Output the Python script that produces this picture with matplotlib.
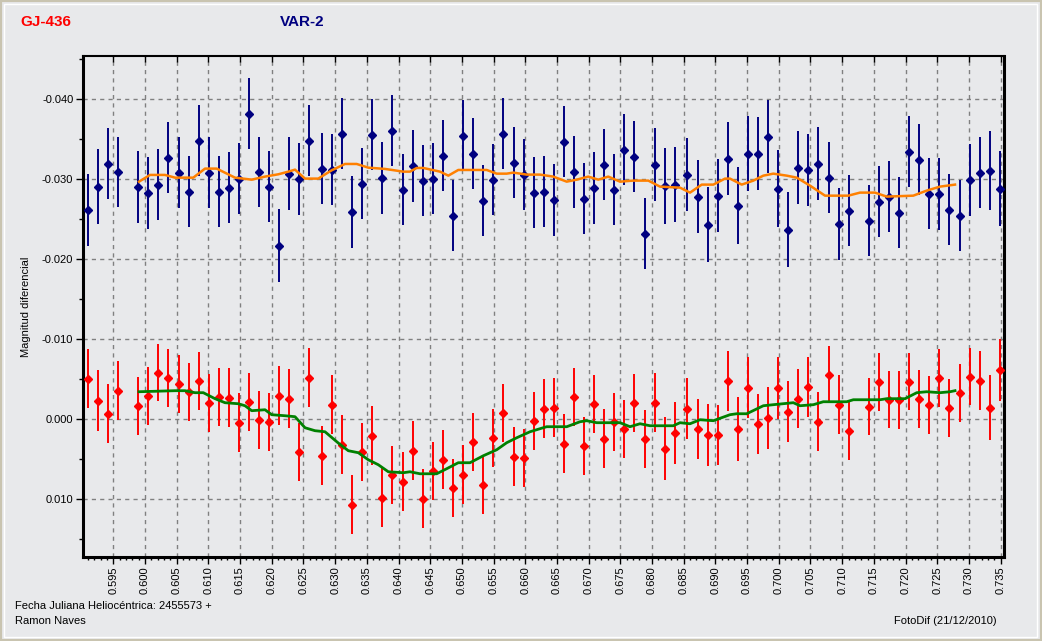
import matplotlib
matplotlib.use("Agg")
import matplotlib.pyplot as plt
from matplotlib.ticker import MultipleLocator, FormatStrFormatter
from matplotlib.patches import Rectangle

plt.rcParams['font.family'] = ['Liberation Sans', 'DejaVu Sans']

# ---------------- data ----------------
jd = [0.59106, 0.59259, 0.59416, 0.59574, 0.59890, 0.60047, 0.60205, 0.60363, 0.60537, 0.60694,
      0.60852, 0.61010, 0.61168, 0.61326, 0.61483, 0.61641, 0.61799, 0.61957, 0.62114, 0.62272,
      0.62430, 0.62588, 0.62793, 0.62951, 0.63108, 0.63266, 0.63424, 0.63582, 0.63740, 0.63897,
      0.64066, 0.64233, 0.64386, 0.64544, 0.64702, 0.64860, 0.65018, 0.65175, 0.65333, 0.65491,
      0.65649, 0.65822, 0.65980, 0.66138, 0.66296, 0.66453, 0.66611, 0.66769, 0.66927, 0.67084,
      0.67242, 0.67400, 0.67558, 0.67716, 0.67889, 0.68047, 0.68205, 0.68362, 0.68552, 0.68725,
      0.68883, 0.69041, 0.69194, 0.69356, 0.69514, 0.69672, 0.69830, 0.69988, 0.70145, 0.70303,
      0.70461, 0.70619, 0.70792, 0.70950, 0.71108, 0.71423, 0.71581, 0.71739, 0.71897, 0.72054,
      0.72212, 0.72370, 0.72528, 0.72686, 0.72859, 0.73017, 0.73175, 0.73332, 0.73490]

var2_mag = [-0.02616, -0.02908, -0.03195, -0.03091, -0.02908, -0.02833, -0.02933, -0.03270, -0.03083, -0.02846,
            -0.03483, -0.03083, -0.02846, -0.02896, -0.03008, -0.03820, -0.03091, -0.02908, -0.02170, -0.03070,
            -0.03008, -0.03483, -0.03133, -0.03120, -0.03570, -0.02595, -0.02945, -0.03558, -0.03020, -0.03608,
            -0.02870, -0.03166, -0.02983, -0.03008, -0.03295, -0.02545, -0.03545, -0.03320, -0.02733, -0.02995,
            -0.03570, -0.03208, -0.03058, -0.02833, -0.02846, -0.02745, -0.03470, -0.03095, -0.02758, -0.02895,
            -0.03183, -0.02870, -0.03370, -0.03283, -0.02320, -0.03183, -0.02920, -0.02933, -0.03058, -0.02783,
            -0.02433, -0.02795, -0.03258, -0.02670, -0.03320, -0.03320, -0.03533, -0.02883, -0.02370, -0.03145,
            -0.03120, -0.03195, -0.03020, -0.02445, -0.02608, -0.02483, -0.02720, -0.02783, -0.02583, -0.03345,
            -0.03245, -0.02820, -0.02820, -0.02620, -0.02545, -0.02995, -0.03083, -0.03108, -0.02883]

var2_err = [0.00452, 0.00467, 0.00448, 0.00440, 0.00450, 0.00450, 0.00448, 0.00442, 0.00448, 0.00442,
            0.00448, 0.00441, 0.00448, 0.00448, 0.00448, 0.00441, 0.00441, 0.00448, 0.00454, 0.00454,
            0.00450, 0.00441, 0.00448, 0.00448, 0.00448, 0.00448, 0.00441, 0.00448, 0.00448, 0.00448,
            0.00441, 0.00448, 0.00448, 0.00448, 0.00441, 0.00444, 0.00441, 0.00441, 0.00441, 0.00441,
            0.00441, 0.00448, 0.00441, 0.00448, 0.00448, 0.00448, 0.00448, 0.00448, 0.00448, 0.00448,
            0.00441, 0.00441, 0.00441, 0.00441, 0.00441, 0.00454, 0.00473, 0.00473, 0.00460, 0.00460,
            0.00466, 0.00454, 0.00460, 0.00479, 0.00466, 0.00460, 0.00460, 0.00479, 0.00466, 0.00454,
            0.00450, 0.00454, 0.00441, 0.00448, 0.00441, 0.00441, 0.00441, 0.00441, 0.00441, 0.00441,
            0.00441, 0.00441, 0.00448, 0.00441, 0.00444, 0.00448, 0.00448, 0.00491, 0.00473]

gj436_mag = [-0.00508, -0.00233, -0.00070, -0.00358, -0.00170, -0.00295, -0.00583, -0.00520, -0.00445, -0.00345,
             -0.00483, -0.00208, -0.00283, -0.00270, 0.00042, -0.00220, 0.00005, 0.00030, -0.00295, -0.00258,
             0.00405, -0.00520, 0.00455, -0.00183, 0.00317, 0.01067, 0.00405, 0.00205, 0.00980, 0.00692,
             0.00780, 0.00392, 0.00992, 0.00642, 0.00505, 0.00855, 0.00692, 0.00280, 0.00817, 0.00230,
             -0.00083, 0.00467, 0.00480, 0.00017, -0.00133, -0.00145, 0.00305, -0.00283, 0.00330, -0.00195,
             0.00242, 0.00030, 0.00117, -0.00208, 0.00242, -0.00208, 0.00367, 0.00167, -0.00133, 0.00117,
             0.00192, 0.00192, -0.00483, 0.00117, -0.00395, 0.00055, -0.00020, -0.00395, -0.00095, -0.00258,
             -0.00408, 0.00030, -0.00558, -0.00183, 0.00142, -0.00158, -0.00470, -0.00245, -0.00245, -0.00470,
             -0.00258, -0.00183, -0.00520, -0.00145, -0.00333, -0.00533, -0.00483, -0.00145, -0.00620]

gj436_err = [0.00369, 0.00379, 0.00366, 0.00366, 0.00360, 0.00360, 0.00360, 0.00360, 0.00360, 0.00360,
             0.00360, 0.00360, 0.00360, 0.00366, 0.00366, 0.00360, 0.00360, 0.00360, 0.00366, 0.00366,
             0.00363, 0.00366, 0.00366, 0.00366, 0.00366, 0.00366, 0.00363, 0.00366, 0.00369, 0.00360,
             0.00366, 0.00366, 0.00366, 0.00365, 0.00366, 0.00360, 0.00366, 0.00360, 0.00360, 0.00360,
             0.00360, 0.00366, 0.00360, 0.00360, 0.00366, 0.00366, 0.00366, 0.00360, 0.00360, 0.00360,
             0.00366, 0.00360, 0.00360, 0.00360, 0.00360, 0.00366, 0.00391, 0.00385, 0.00379, 0.00373,
             0.00385, 0.00373, 0.00373, 0.00398, 0.00379, 0.00373, 0.00385, 0.00385, 0.00379, 0.00366,
             0.00373, 0.00366, 0.00360, 0.00366, 0.00360, 0.00354, 0.00360, 0.00354, 0.00360, 0.00354,
             0.00360, 0.00360, 0.00360, 0.00360, 0.00360, 0.00360, 0.00366, 0.00404, 0.00385]

# running mean curves
var2_smooth_jd = [0.59906, 0.60079, 0.60316, 0.60474, 0.60762, 0.60947, 0.61131, 0.61420, 0.61684, 0.61894,
                  0.62104, 0.62261, 0.62367, 0.62525, 0.62734, 0.62946, 0.63156, 0.63340, 0.63523, 0.63787,
                  0.64076, 0.64181, 0.64287, 0.64391, 0.64655, 0.64786, 0.64943, 0.65391, 0.65549, 0.65707,
                  0.65811, 0.66023, 0.66232, 0.66442, 0.66654, 0.66812, 0.66994, 0.67152, 0.67310, 0.67495,
                  0.67704, 0.67941, 0.68126, 0.68441, 0.68599, 0.68784, 0.68967, 0.69151, 0.69230, 0.69415,
                  0.69598, 0.69756, 0.69913, 0.70125, 0.70283, 0.70493, 0.70729, 0.71097, 0.71281, 0.71518,
                  0.71702, 0.72122, 0.72333, 0.72544, 0.72780]
var2_smooth = [-0.02970, -0.03054, -0.03054, -0.03020, -0.03020, -0.03133, -0.03133, -0.03020, -0.02995, -0.03033,
               -0.03062, -0.03095, -0.03120, -0.03008, -0.03008, -0.03112, -0.03191, -0.03191, -0.03145, -0.03129,
               -0.03095, -0.03095, -0.03141, -0.03141, -0.03095, -0.03045, -0.03116, -0.03116, -0.03070, -0.03070,
               -0.03083, -0.03058, -0.03058, -0.03033, -0.02970, -0.02995, -0.03033, -0.02995, -0.03033, -0.02970,
               -0.02983, -0.02983, -0.02908, -0.02895, -0.02833, -0.02933, -0.02933, -0.03008, -0.03008, -0.02933,
               -0.02983, -0.03045, -0.03070, -0.03045, -0.03020, -0.02920, -0.02795, -0.02795, -0.02833, -0.02833,
               -0.02783, -0.02795, -0.02858, -0.02908, -0.02933]

gj436_smooth_jd = [0.59906, 0.60474, 0.60631, 0.60789, 0.60920, 0.61105, 0.61262, 0.61472, 0.61578, 0.61684,
                   0.61894, 0.61999, 0.62209, 0.62367, 0.62525, 0.62682, 0.62840, 0.63050, 0.63208, 0.63366,
                   0.63523, 0.63681, 0.63839, 0.64076, 0.64181, 0.64339, 0.64602, 0.64760, 0.64943, 0.65128,
                   0.65338, 0.65549, 0.65707, 0.65865, 0.66075, 0.66232, 0.66338, 0.66654, 0.66864, 0.66969,
                   0.67127, 0.67495, 0.67652, 0.67810, 0.67968, 0.68336, 0.68441, 0.68599, 0.68757, 0.68967,
                   0.69230, 0.69336, 0.69494, 0.69756, 0.69913, 0.70229, 0.70335, 0.70545, 0.70702, 0.71071,
                   0.71176, 0.71597, 0.71702, 0.71991, 0.72176, 0.72333, 0.72544, 0.72702, 0.72780]
gj436_smooth = [-0.00345, -0.00358, -0.00358, -0.00333, -0.00333, -0.00258, -0.00208, -0.00195, -0.00170, -0.00108,
                -0.00120, -0.00058, -0.00045, -0.00033, 0.00105, 0.00142, 0.00155, 0.00296, 0.00392, 0.00417,
                0.00505, 0.00567, 0.00655, 0.00667, 0.00655, 0.00680, 0.00680, 0.00617, 0.00542, 0.00542,
                0.00455, 0.00380, 0.00292, 0.00230, 0.00155, 0.00117, 0.00092, 0.00092, 0.00030, 0.00017,
                0.00042, 0.00042, 0.00092, 0.00055, 0.00080, 0.00080, 0.00042, 0.00055, 0.00005, 0.00017,
                -0.00058, -0.00070, -0.00070, -0.00170, -0.00183, -0.00208, -0.00170, -0.00183, -0.00220, -0.00220,
                -0.00245, -0.00245, -0.00258, -0.00258, -0.00333, -0.00345, -0.00333, -0.00345, -0.00358]

x_limits = (0.59022, 0.73553)
y_limits = (0.0172, -0.0454)

# ---------------- figure ----------------
BG = '#e8e9eb'
fig = plt.figure(figsize=(10.42, 6.41), dpi=100, facecolor=BG)

# window-style border
fig.patches.append(Rectangle((0, 0), 1, 1, transform=fig.transFigure, fill=False,
                             edgecolor='#c9c4b0', linewidth=3, zorder=0))
fig.patches.append(Rectangle((0.004, 0.006), 0.991, 0.988, transform=fig.transFigure, fill=False,
                             edgecolor='#ffffff', linewidth=1, zorder=0))

ax = fig.add_axes([83 / 1042, 1 - 557 / 641, (1004 - 83) / 1042, (557 - 56) / 641])
ax.set_facecolor(BG)

ax.errorbar(jd, var2_mag, yerr=var2_err, fmt='D', color='#000080', ecolor='#000080',
            markersize=4, elinewidth=1.4, capsize=0, zorder=3)
ax.errorbar(jd, gj436_mag, yerr=gj436_err, fmt='D', color='#ff0000', ecolor='#ff0000',
            markersize=4, elinewidth=1.4, capsize=0, zorder=3)
ax.plot(var2_smooth_jd, var2_smooth, color='#ff8000', linewidth=1.8, zorder=4)
ax.plot(gj436_smooth_jd, gj436_smooth, color='#008000', linewidth=2.0, zorder=4)

ax.set_xlim(*x_limits)
ax.set_ylim(*y_limits)

ax.xaxis.set_major_locator(MultipleLocator(0.005))
ax.xaxis.set_minor_locator(MultipleLocator(0.001))
ax.yaxis.set_major_locator(MultipleLocator(0.010))
ax.yaxis.set_minor_locator(MultipleLocator(0.005))
ax.xaxis.set_major_formatter(FormatStrFormatter('%.3f'))
ax.yaxis.set_major_formatter(FormatStrFormatter('%.3f'))

ax.grid(True, which='major', color='#808080', linestyle=(0, (3, 3)), linewidth=1)

ax.tick_params(axis='x', which='major', direction='out', length=5, width=1, labelsize=8,
               labelrotation=90, pad=2, top=True, labeltop=False)
ax.tick_params(axis='x', which='minor', direction='out', length=2.5, width=1, top=False)
ax.tick_params(axis='y', which='major', direction='out', length=5, width=1, labelsize=8, pad=2)
ax.tick_params(axis='y', which='minor', direction='out', length=3, width=1)
for t in ax.xaxis.get_major_ticks():
    t.tick2line.set_marker(3)  # inward at top
    t.tick2line.set_markersize(4)

for side in ['left', 'bottom', 'right']:
    ax.spines[side].set_linewidth(2.2)
ax.spines['top'].set_linewidth(1.5)

ax.set_ylabel('Magnitud diferencial', fontsize=8, labelpad=8)

fig.text(20 / 1042, 1 - 22 / 641, 'GJ-436', color='#ff0000', fontsize=11, fontweight='bold',
         ha='left', va='center')
fig.text(280 / 1042, 1 - 22 / 641, 'VAR-2', color='#000080', fontsize=11, fontweight='bold',
         ha='left', va='center')
fig.text(15 / 1042, 1 - 606 / 641, 'Fecha Juliana Heliocéntrica: 2455573 +', fontsize=8,
         ha='left', va='center')
fig.text(15 / 1042, 1 - 621 / 641, 'Ramon Naves', fontsize=8, ha='left', va='center')
fig.text(997 / 1042, 1 - 621 / 641, 'FotoDif (21/12/2010)', fontsize=8, ha='right', va='center')

fig.savefig('out.png', dpi=100, facecolor=BG)
